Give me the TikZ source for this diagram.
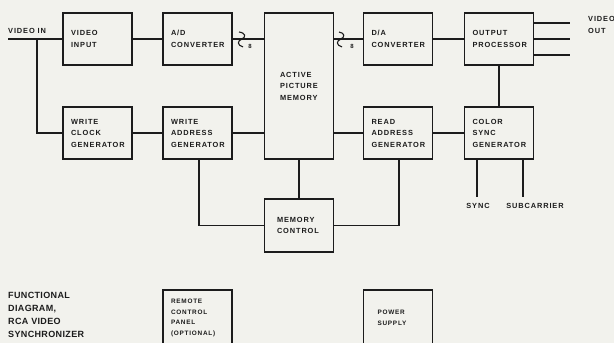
\documentclass[tikz,border=0pt]{standalone}
\usepackage{fontspec}
\newfontfamily\boxfont[LetterSpace=12]{Liberation Sans}
\newfontfamily\capfont[LetterSpace=4]{Liberation Sans}
\definecolor{paper}{RGB}{242,242,237}
\definecolor{ink}{RGB}{28,28,28}
\tikzset{
    box/.style={draw=ink, line width=1.3pt, minimum width=69pt, minimum height=52pt,
        text width=53pt, inner xsep=8pt, align=left, text=ink,
        font=\boxfont\bfseries\fontsize{7.4}{11.5}\selectfont},
    lbl/.style={text=ink, inner sep=0pt, font=\boxfont\bfseries\fontsize{7.4}{11.5}\selectfont},
    wire/.style={draw=ink, line width=1.3pt}
}
\begin{document}
\begin{tikzpicture}[x=1pt, y=-1pt]
            \fill[paper] (0,0) rectangle (614,343);
            \useasboundingbox (0,0) rectangle (614,343);

            % top row
            \node[box] (vinput) at (97.5,39) {VIDEO\\INPUT};
            \node[box] (adconv) at (197.5,39) {A/D\\CONVERTER};
            \node[box, minimum height=146pt, text width=38pt, inner xsep=15pt] (mem) at (299,86) {ACTIVE\\PICTURE\\MEMORY};
            \node[box] (daconv) at (398,39) {D/A\\CONVERTER};
            \node[box] (outproc) at (499,39) {OUTPUT\\PROCESSOR};

            % second row
            \node[box] (wclock) at (97.5,133) {WRITE\\CLOCK\\GENERATOR};
            \node[box] (waddr) at (197.5,133) {WRITE\\ADDRESS\\GENERATOR};
            \node[box] (raddr) at (398,133) {READ\\ADDRESS\\GENERATOR};
            \node[box] (csync) at (499,133) {COLOR\\SYNC\\GENERATOR};

            \node[box, text width=44pt, inner xsep=12pt, minimum height=53pt] (memctl) at (299,225.5) {MEMORY\\CONTROL};

            % bottom row
            \node[box, minimum height=56pt, font=\boxfont\bfseries\fontsize{6.4}{10.5}\selectfont] (remote) at (197.5,318) {REMOTE\\CONTROL\\PANEL\\(OPTIONAL)};
            \node[box, minimum height=56pt, text width=41pt, inner xsep=14pt, font=\boxfont\bfseries\fontsize{6.4}{10.5}\selectfont] (power) at (398,318) {POWER\\SUPPLY};

            % labels
            \node[lbl, anchor=base west] (vinlbl) at (8,33) {VIDEO IN};
            \node[lbl, anchor=base west, align=left] (voutlbl) at (588,33) {VIDEO\\OUT};
            \node[lbl] (synclbl) at (478,206) {SYNC};
            \node[lbl] (subclbl) at (535,206) {SUBCARRIER};
            \node[anchor=north west, align=left, inner sep=0pt, text=ink,
                font=\capfont\bfseries\fontsize{9}{13}\selectfont] (caption) at (8,292)
                {FUNCTIONAL\\DIAGRAM,\\RCA VIDEO\\SYNCHRONIZER};

            \coordinate (vin) at (8,39);
            \coordinate (vbranch) at (37,39);
            \coordinate (syncend) at (477,197);
            \coordinate (subcend) at (523,197);

            % connectors
            \draw[wire] (vin) -- (vinput.west);
            \draw[wire] (vbranch) |- (wclock.west);
            \draw[wire] (vinput) -- (adconv);
            \draw[wire] (adconv.east) -- (adconv.east -| mem.west);
            \draw[wire] (mem.east |- daconv) -- (daconv.west);
            \draw[wire] (daconv) -- (outproc);
            \draw[wire] ([yshift=-16pt]outproc.east) -- ++(36,0);
            \draw[wire] (outproc.east) -- ++(36,0);
            \draw[wire] ([yshift=16pt]outproc.east) -- ++(36,0);
            \draw[wire] (outproc) -- (csync);

            \draw[wire] (wclock) -- (waddr);
            \draw[wire] (waddr.east) -- (waddr.east -| mem.west);
            \draw[wire] (mem.east |- raddr) -- (raddr.west);
            \draw[wire] (raddr) -- (csync);

            \draw[wire] ([xshift=1.5pt]waddr.south) |- (memctl.west);
            \draw[wire] (mem.south) -- (memctl.north);
            \draw[wire] ([xshift=1pt]raddr.south) |- (memctl.east);

            \draw[wire] (syncend |- csync.south) -- (syncend);
            \draw[wire] (subcend |- csync.south) -- (subcend);

            % 8-bit bus marks
            \draw[wire, line width=1.1pt, shift={(241,39)}] (-2,-7) .. controls (5,-6) and (5,-2) .. (1,0) .. controls (-4,2) and (-4,6) .. (2,8);
            \node[lbl, font=\boxfont\bfseries\fontsize{6}{7}\selectfont] (adbus) at (250,46) {8};
            \draw[wire, line width=1.1pt, shift={(340,39)}] (-1,-7) .. controls (5,-6) and (5,-2) .. (1,0) .. controls (-4,2) and (-4,6) .. (2,8);
            \node[lbl, font=\boxfont\bfseries\fontsize{6}{7}\selectfont] (dabus) at (352,46) {8};
        \end{tikzpicture}
\end{document}
